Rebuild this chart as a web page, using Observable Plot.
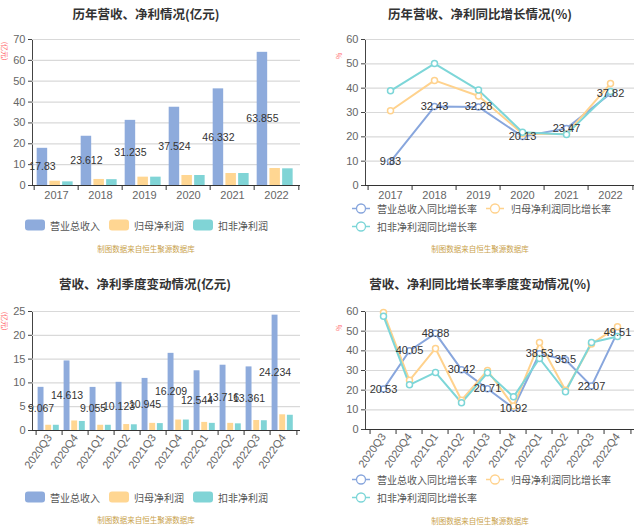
<!DOCTYPE html>
<html><head><meta charset="utf-8">
<script src="https://cdn.jsdelivr.net/npm/d3@7"></script>
<script src="https://cdn.jsdelivr.net/npm/@observablehq/plot@0.6"></script>
<style>
body{margin:0;background:#fff;font-family:"Noto Sans CJK SC","Noto Sans",sans-serif;}
#root{position:relative;width:640px;height:530px;overflow:hidden;background:#fff;}
.panel{position:absolute;}
.title{position:absolute;font-weight:bold;font-size:12.5px;color:#333;transform:translate(-50%,-50%);white-space:nowrap;}
.caption{position:absolute;font-size:7.5px;color:#c9a24c;transform:translate(-50%,-50%);white-space:nowrap;}
.unit{position:absolute;font-size:7px;color:#f66;transform:translate(-50%,-50%) rotate(90deg);white-space:nowrap;}
.legend{position:absolute;display:flex;align-items:center;font-size:10px;color:#555;white-space:nowrap;transform:translateY(-50%);}
.item{display:flex;align-items:center;margin-right:9px;}
.sw{width:20px;height:11px;border-radius:3px;margin-right:5px;}
.sym{margin-right:7px;}
g[aria-label$="tick label"] text{fill:#666;}
</style>
</head><body><div id="root"></div>
<script>
// ---- data ----
const years = ["2017","2018","2019","2020","2021","2022"];
const revenue = [17.83, 23.612, 31.235, 37.524, 46.332, 63.855];
const netProfit = [2.05, 2.9, 4.0, 4.8, 5.75, 8.15];
const deductedProfit = [1.75, 2.8, 4.0, 4.8, 5.75, 8.0];
const revenueGrowth = [9.83, 32.43, 32.28, 20.13, 23.47, 37.82];
const netProfitGrowth = [30.7, 43.2, 36.8, 21.3, 21.2, 41.9];
const deductedGrowth = [38.9, 50.1, 39.2, 21.9, 21.0, 38.6];
const quarters = ["2020Q3","2020Q4","2021Q1","2021Q2","2021Q3","2021Q4","2022Q1","2022Q2","2022Q3","2022Q4"];
const qRevenue = [9.067, 14.613, 9.055, 10.123, 10.945, 16.209, 12.544, 13.716, 13.361, 24.234];
const qNetProfit = [1.1, 2.0, 1.1, 1.25, 1.5, 2.2, 1.7, 1.5, 2.1, 3.3];
const qDeducted = [1.1, 1.9, 1.1, 1.2, 1.45, 2.2, 1.5, 1.4, 2.05, 3.2];
const qRevenueGrowth = [20.53, 40.05, 48.88, 30.42, 20.71, 10.92, 38.53, 35.5, 22.07, 49.51];
const qNetProfitGrowth = [59.5, 25.0, 41.2, 14.9, 30.0, 11.9, 44.2, 20.0, 43.5, 52.2];
const qDeductedGrowth = [57.6, 22.7, 29.0, 13.6, 28.8, 16.6, 36.1, 19.2, 44.2, 47.3];
const barSeries = ["营业总收入","归母净利润","扣非净利润"];
const lineSeries = ["营业总收入同比增长率","归母净利润同比增长率","扣非净利润同比增长率"];
const barColors = ["#8eabdc","#ffd692","#80d4d6"];
const lineColors = ["#88a6dd","#ffd28d","#7dd6d8"];
const ticksAnnual = [0,10,20,30,40,50,60,70];
const ticksQuarter = [0,5,10,15,20,25];
const ticksPct = [0,10,20,30,40,50,60];
const titles = ["历年营收、净利情况(亿元)","历年营收、净利同比增长情况(%)","营收、净利季度变动情况(亿元)","营收、净利同比增长率季度变动情况(%)"];
const caption = "制图数据来自恒生聚源数据库";
const unitMoney = "(亿元)", unitPct = "%";

const root = document.getElementById("root");
const FONT = "'Liberation Sans', Arial, 'Noto Sans CJK SC', sans-serif";

function place(el, left, top){ el.style.position="absolute"; el.style.left=left+"px"; el.style.top=top+"px"; root.appendChild(el); return el; }
function div(cls, text, x, y){ const d=document.createElement("div"); d.className=cls; d.textContent=text; return place(d,x,y); }

function baseMarks(cats, yTicks, step, frameH){
  return [
    Plot.ruleY(yTicks.slice(1), {stroke:"#d9d9d9", strokeWidth:1.2}),
    Plot.ruleY([0], {stroke:"#333"}),
    Plot.ruleX(cats, {x: d=>d, dx: -step/2, insetTop: frameH, insetBottom: -5, stroke:"#333"}),
    Plot.ruleX(cats.slice(-1), {x: d=>d, dx: step/2, insetTop: frameH, insetBottom: -5, stroke:"#333"})
  ];
}

function barChart({cats, vals, yTicks, width, height, mt, mb, ml, mr, rotate}){
  const frameW = width-ml-mr, step = frameW/cats.length, frameH = height-mt-mb;
  const L=0.06, W=0.25, G=0.035;
  const marks = baseMarks(cats, yTicks, step, frameH);
  const gridAndAxis = marks.slice(0,1), rest = marks.slice(1);
  const bars = vals.map((v,s)=>Plot.barY(cats.map((c,i)=>({cat:c, value:v[i]})), {
    x:"cat", y:"value", fill: barColors[s],
    insetLeft: step*(L + s*(W+G)), insetRight: step*(1 - L - s*(W+G) - W)
  }));
  const labels = Plot.text(cats.map((c,i)=>({cat:c, value:vals[0][i]})), {
    x:"cat", y: d=>d.value/2, text: d=>String(d.value), dx: step*(L+W/2-0.5),
    fill:"#333", fontSize:10.5
  });
  return Plot.plot({
    width, height, marginTop: mt, marginBottom: mb, marginLeft: ml, marginRight: mr,
    style:{fontFamily:FONT, fontSize:"11px", color:"#444", background:"transparent", overflow:"visible"},
    x:{type:"band", domain:cats, padding:0, tickSize:0, tickPadding: rotate ? 5 : 6, label:null, tickRotate: rotate || 0},
    y:{domain:[yTicks[0], yTicks[yTicks.length-1]], ticks:yTicks, tickSize:4, tickPadding:3, line:true, label:null},
    marks:[...gridAndAxis, ...bars, ...rest, labels]
  });
}

function lineChart({cats, vals, yTicks, width, height, mt, mb, ml, mr, rotate}){
  const frameW = width-ml-mr, step = frameW/cats.length, frameH = height-mt-mb;
  const marks = baseMarks(cats, yTicks, step, frameH);
  const lines = vals.map((v,s)=>Plot.line(cats.map((c,i)=>({cat:c, v:v[i]})), {x:"cat", y:"v", stroke: lineColors[s], strokeWidth:2}));
  const dots = vals.map((v,s)=>Plot.dot(cats.map((c,i)=>({cat:c, v:v[i]})), {x:"cat", y:"v", r:3, fill:"white", stroke: lineColors[s], strokeWidth:1.5}));
  const labels = Plot.text(cats.map((c,i)=>({cat:c, v:vals[0][i]})), {x:"cat", y:"v", text:d=>String(d.v), fill:"#333", fontSize:11});
  return Plot.plot({
    width, height, marginTop: mt, marginBottom: mb, marginLeft: ml, marginRight: mr,
    style:{fontFamily:FONT, fontSize:"11px", color:"#444", background:"transparent", overflow:"visible"},
    x:{type:"band", domain:cats, padding:0, tickSize:0, tickPadding: rotate ? 5 : 6, label:null, tickRotate: rotate || 0},
    y:{domain:[yTicks[0], yTicks[yTicks.length-1]], ticks:yTicks, tickSize:4, tickPadding:3, line:true, label:null},
    marks:[...marks, ...lines, ...dots, labels]
  });
}

function barLegend(x, y){
  const lg = document.createElement("div"); lg.className="legend";
  barSeries.forEach((name,i)=>{
    const it=document.createElement("div"); it.className="item";
    const sw=document.createElement("div"); sw.className="sw"; sw.style.background=barColors[i];
    const t=document.createElement("span"); t.textContent=name;
    it.appendChild(sw); it.appendChild(t); lg.appendChild(it);
  });
  place(lg, x, y);
}
function lineLegendItem(i){
  const it=document.createElement("div"); it.className="item";
  const ns="http://www.w3.org/2000/svg";
  const svg=document.createElementNS(ns,"svg"); svg.setAttribute("width","18"); svg.setAttribute("height","12"); svg.setAttribute("class","sym");
  const ln=document.createElementNS(ns,"line"); ln.setAttribute("x1","0"); ln.setAttribute("x2","18"); ln.setAttribute("y1","6"); ln.setAttribute("y2","6");
  ln.setAttribute("stroke",lineColors[i]); ln.setAttribute("stroke-width","1.5");
  const c=document.createElementNS(ns,"circle"); c.setAttribute("cx","9"); c.setAttribute("cy","6"); c.setAttribute("r","4.5");
  c.setAttribute("fill","white"); c.setAttribute("stroke",lineColors[i]); c.setAttribute("stroke-width","1.3");
  svg.appendChild(ln); svg.appendChild(c);
  const t=document.createElement("span"); t.textContent=lineSeries[i];
  it.appendChild(svg); it.appendChild(t); return it;
}
function lineLegend(x, y1, y2){
  const r1=document.createElement("div"); r1.className="legend";
  r1.appendChild(lineLegendItem(0)); r1.appendChild(lineLegendItem(1));
  place(r1, x, y1);
  const r2=document.createElement("div"); r2.className="legend";
  r2.appendChild(lineLegendItem(2));
  place(r2, x, y2);
}

// ---- panels ----
place(barChart({cats:years, vals:[revenue, netProfit, deductedProfit], yTicks:ticksAnnual, width:320, height:205, mt:39, mb:20, ml:32, mr:20}), 0, 0);
place(lineChart({cats:years, vals:[revenueGrowth, netProfitGrowth, deductedGrowth], yTicks:ticksPct, width:320, height:205, mt:39, mb:20, ml:45, mr:6}), 320, 0);
place(barChart({cats:quarters, vals:[qRevenue, qNetProfit, qDeducted], yTicks:ticksQuarter, width:320, height:190, mt:21, mb:50, ml:32, mr:20, rotate:-55}), 0, 290);
place(lineChart({cats:quarters, vals:[qRevenueGrowth, qNetProfitGrowth, qDeductedGrowth], yTicks:ticksPct, width:320, height:190, mt:21, mb:51, ml:45, mr:6, rotate:-55}), 320, 290);

div("title", titles[0], 146, 12.5);
div("title", titles[1], 480, 12.5);
div("title", titles[2], 145, 283);
div("title", titles[3], 480, 283);
div("unit", unitMoney, 5, 51);
div("unit", unitPct, 339, 56);
div("unit", unitMoney, 5, 321);
div("unit", unitPct, 339, 328);
barLegend(25, 225);
lineLegend(352, 208, 226);
barLegend(25, 497);
lineLegend(352, 479, 497);
div("caption", caption, 146, 248);
div("caption", caption, 480, 248);
div("caption", caption, 146, 519);
div("caption", caption, 480, 520);
</script>
</body></html>
